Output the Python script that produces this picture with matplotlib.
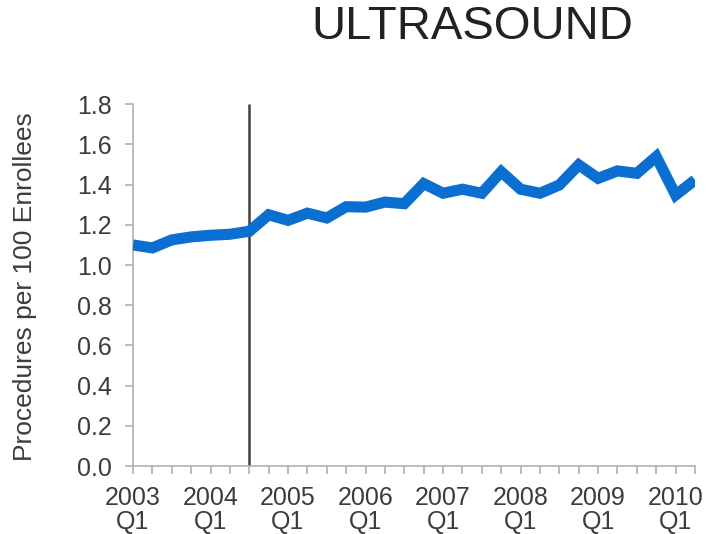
import matplotlib
matplotlib.use('Agg')
import matplotlib.pyplot as plt
import numpy as np

# quarterly data, 2003 Q1 .. 2010 Q2
quarters = [f"{y} Q{q}" for y in range(2003, 2011) for q in range(1, 5)][:30]
values = [1.10, 1.085, 1.125, 1.14, 1.148, 1.153, 1.168,
          1.25, 1.222, 1.258, 1.234, 1.29, 1.288, 1.313, 1.305,
          1.405, 1.357, 1.377, 1.357, 1.464, 1.377, 1.357, 1.398,
          1.498, 1.431, 1.468, 1.456, 1.539, 1.348, 1.423]
marker_idx = 6  # 2004 Q3
yticks = [0.0, 0.2, 0.4, 0.6, 0.8, 1.0, 1.2, 1.4, 1.6, 1.8]

plt.rcParams['font.family'] = ['Liberation Sans', 'DejaVu Sans']
text_col = '#3c3c3c'

fig = plt.figure(figsize=(7.07, 5.34), dpi=100)
ax = fig.add_axes([133 / 707, 0.127, 562 / 707, 0.678])

x = np.arange(len(values))
ax.plot(x, values, color='#0a6fd0', linewidth=8, solid_joinstyle='miter',
        solid_capstyle='butt', zorder=3)
ax.vlines(marker_idx, 0, 1.8, color='#404040', linewidth=1.8, zorder=2)

ax.set_xlim(0, len(values) - 1)
ax.set_ylim(0, 1.8)
ax.set_yticks(yticks)
ax.set_yticklabels([f"{v:.1f}" for v in yticks])

labels = []
for i, q in enumerate(quarters):
    yr, qq = q.split()
    labels.append(f"{yr}\n{qq}" if i % 4 == 0 else "")
ax.set_xticks(x)
ax.set_xticklabels(labels)

for s in ['top', 'right']:
    ax.spines[s].set_visible(False)
for s in ['left', 'bottom']:
    ax.spines[s].set_color('#b0b0b0')
    ax.spines[s].set_linewidth(1.2)
ax.tick_params(axis='both', colors='#b0b0b0', labelcolor=text_col,
               labelsize=18, length=6, width=1.2)
ax.tick_params(axis='y', pad=9)
ax.tick_params(axis='x', pad=8)
for t in ax.get_xticklabels():
    t.set_linespacing(1.0)

fig.text(25 / 707, 0.4625, 'Procedures per 100 Enrollees', fontsize=19,
         color=text_col, rotation=90, ha='center', va='center')

fig.text(0.668, 0.949, 'ULTRASOUND', fontsize=34, color='#222222',
         ha='center', va='center')

fig.savefig('out.png', dpi=100)
